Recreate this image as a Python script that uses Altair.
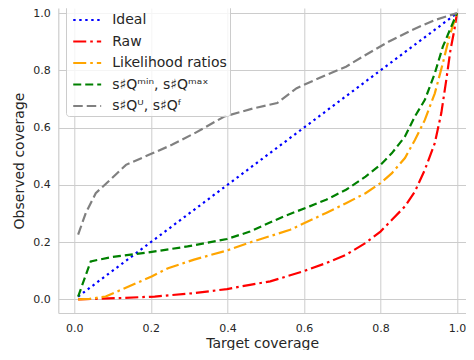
import altair as alt
import pandas as pd

names = ["Ideal", "Raw", "Likelihood ratios", "s♯Qᵐⁱⁿ, s♯Qᵐᵃˣ", "s♯Qᵁ, s♯Qᶠ"]
colors = ["blue", "red", "orange", "green", "gray"]
dashes = [[2.4, 3.6], [13, 4, 2.6, 4], [13, 4, 2.6, 4], [8, 4], [9.5, 4]]

ideal_x = [0.01, 1.0]
ideal_y = [0.01, 1.0]

raw_x = [0.01, 0.125, 0.210, 0.313, 0.399, 0.459, 0.512, 0.598, 0.658, 0.710, 0.761,
         0.800, 0.830, 0.864, 0.890, 0.916, 0.942, 0.959, 0.972, 0.983, 0.993, 1.0]
raw_y = [0.0, 0.005, 0.010, 0.022, 0.036, 0.051, 0.063, 0.098, 0.127, 0.156, 0.197,
         0.237, 0.278, 0.325, 0.377, 0.453, 0.546, 0.651, 0.767, 0.872, 0.941, 1.0]

lr_x = [0.01, 0.040, 0.082, 0.142, 0.202, 0.245, 0.313, 0.399, 0.459, 0.564, 0.658,
        0.710, 0.761, 0.800, 0.830, 0.864, 0.890, 0.916, 0.942, 0.963, 0.980, 1.0]
lr_y = [0.0, 0.002, 0.010, 0.045, 0.080, 0.109, 0.139, 0.171, 0.199, 0.243, 0.302,
        0.336, 0.371, 0.406, 0.441, 0.494, 0.557, 0.627, 0.720, 0.825, 0.918, 1.0]

mm_x = [0.01, 0.043, 0.099, 0.193, 0.296, 0.399, 0.459, 0.547, 0.615, 0.658, 0.710,
        0.761, 0.800, 0.830, 0.864, 0.890, 0.916, 0.942, 0.963, 0.985, 1.0]
mm_y = [0.010, 0.133, 0.148, 0.164, 0.185, 0.211, 0.237, 0.290, 0.325, 0.348, 0.383,
        0.429, 0.470, 0.511, 0.569, 0.639, 0.697, 0.790, 0.883, 0.953, 1.0]

uf_x = [0.01, 0.030, 0.056, 0.094, 0.135, 0.195, 0.255, 0.315, 0.392, 0.470, 0.530,
        0.581, 0.658, 0.710, 0.761, 0.821, 0.882, 0.942, 1.0]
uf_y = [0.226, 0.302, 0.371, 0.418, 0.470, 0.505, 0.540, 0.581, 0.639, 0.668, 0.686,
        0.738, 0.784, 0.813, 0.854, 0.900, 0.941, 0.976, 1.0]

ticks = [0.0, 0.2, 0.4, 0.6, 0.8, 1.0]

rows = []
for i, (xs, ys) in enumerate([(ideal_x, ideal_y), (raw_x, raw_y), (lr_x, lr_y),
                              (mm_x, mm_y), (uf_x, uf_y)]):
    for j, (a, b) in enumerate(zip(xs, ys)):
        rows.append({"series": names[i], "k": i, "j": j, "x": a, "y": b})
df = pd.DataFrame(rows)

FONT = "DejaVu Sans"
TXT = "#262626"

chart = alt.Chart(df).mark_line(strokeWidth=2.2, strokeCap="butt", clip=True).encode(
    x=alt.X("x:Q", title="Target coverage",
            scale=alt.Scale(domain=[-0.0418, 1.0235], nice=False, zero=False),
            axis=alt.Axis(values=ticks, format=".1f", labelPadding=9, titlePadding=3)),
    y=alt.Y("y:Q", title="Observed coverage",
            scale=alt.Scale(domain=[-0.0475, 1.018], nice=False, zero=False),
            axis=alt.Axis(values=ticks, format=".1f", labelPadding=8, titlePadding=6)),
    color=alt.Color("series:N", sort=names,
                    scale=alt.Scale(domain=names, range=colors),
                    legend=alt.Legend(title=None, orient="none", legendX=7.7, legendY=-3,
                                      symbolType="M-1.33,0H1.33", symbolSize=441,
                                      symbolStrokeWidth=2.2, symbolOffset=6.2,
                                      labelFontSize=14,
                                      labelFont=FONT, labelColor=TXT, labelOffset=13,
                                      rowPadding=2.5, padding=3,
                                      fillColor="rgba(255,255,255,0.8)",
                                      strokeColor="#cccccc", cornerRadius=3)),
    strokeDash=alt.StrokeDash("series:N", sort=names,
                              scale=alt.Scale(domain=names, range=dashes)),
    detail="k:N",
    order="j:Q",
).properties(
    width=407.7, height=305,
    autosize=alt.AutoSizeParams(type="none"),
    padding={"left": 50.3, "top": 0, "right": 0, "bottom": 37},
).configure_axis(
    grid=True, gridColor="#cccccc", gridWidth=1,
    domainColor="#cccccc", domainWidth=1.2, ticks=False,
    labelFont=FONT, labelFontSize=11, labelColor=TXT,
    titleFont=FONT, titleFontSize=14, titleColor=TXT, titleFontWeight="normal",
).configure_view(strokeWidth=0)

chart.save("out.html", embed_options={"renderer": "svg", "actions": False})
